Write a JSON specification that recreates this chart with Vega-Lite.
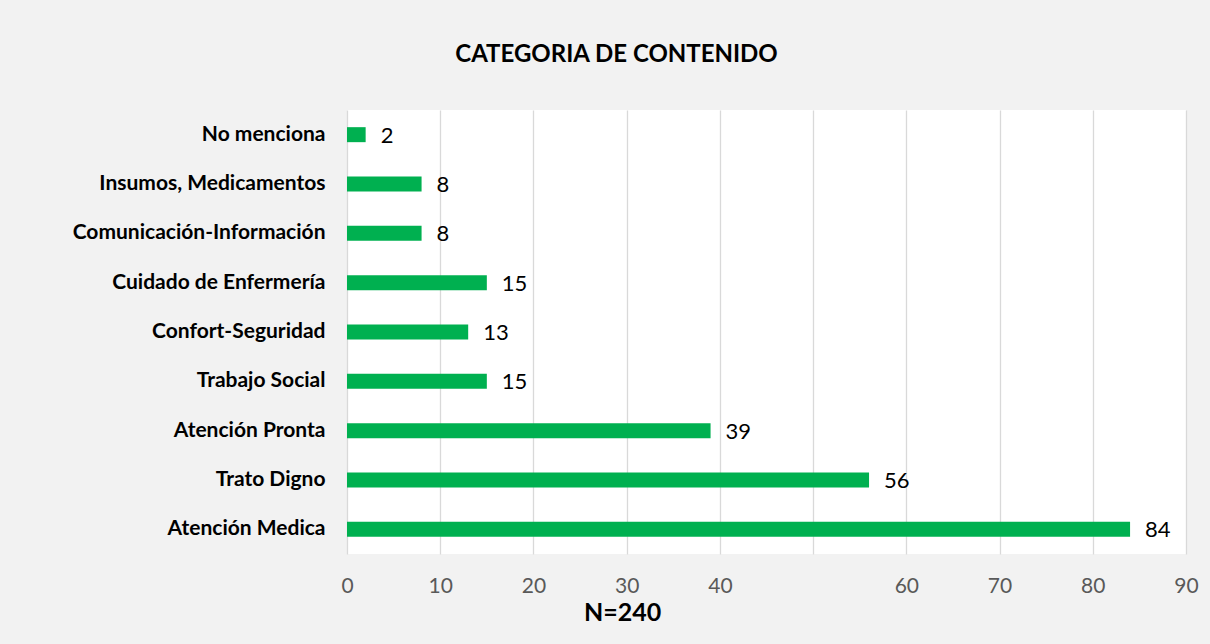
{
  "$schema": "https://vega.github.io/schema/vega-lite/v6.json",
  "autosize": "none",
  "width": 839,
  "height": 444,
  "padding": {"left": 347, "top": 110, "right": 24, "bottom": 90},
  "background": "#f2f2f2",
  "title": {
    "text": "CATEGORIA DE CONTENIDO",
    "font": "Lato",
    "fontSize": 24,
    "fontWeight": "bold",
    "color": "#000000",
    "anchor": "middle",
    "frame": "group",
    "dx": -150,
    "offset": 43
  },
  "config": {
    "view": {"fill": "#ffffff", "stroke": null}
  },
  "data": {
    "values": [
      {"categoria": "No menciona", "n": 2},
      {"categoria": "Insumos, Medicamentos", "n": 8},
      {"categoria": "Comunicación-Información", "n": 8},
      {"categoria": "Cuidado de Enfermería", "n": 15},
      {"categoria": "Confort-Seguridad", "n": 13},
      {"categoria": "Trabajo Social", "n": 15},
      {"categoria": "Atención Pronta", "n": 39},
      {"categoria": "Trato Digno", "n": 56},
      {"categoria": "Atención Medica", "n": 84}
    ]
  },
  "encoding": {
    "y": {
      "field": "categoria",
      "type": "nominal",
      "sort": null,
      "scale": {"paddingInner": 0.7, "paddingOuter": 0.35},
      "axis": {
        "title": null,
        "ticks": false,
        "domain": false,
        "labelFont": "Lato",
        "labelFontSize": 21,
        "labelFontWeight": "bold",
        "labelColor": "#000000",
        "labelPadding": 22,
        "labelLimit": 400
      }
    },
    "x": {
      "field": "n",
      "type": "quantitative",
      "scale": {"domain": [0, 90], "nice": false},
      "axis": {
        "values": [0, 10, 20, 30, 40, 50, 60, 70, 80, 90],
        "labelExpr": "datum.value == 50 ? '' : datum.label",
        "labelFlush": false,
        "grid": true,
        "gridColor": "#d9d9d9",
        "gridWidth": 1.3,
        "domain": false,
        "ticks": false,
        "labelFont": "Lato",
        "labelFontSize": 21,
        "labelColor": "#595959",
        "labelPadding": 21,
        "title": "N=240",
        "titleFont": "Lato",
        "titleFontSize": 25,
        "titleFontWeight": "bold",
        "titleColor": "#000000",
        "titleX": 275,
        "titleY": 46,
        "titleAnchor": "middle",
        "titleAlign": "center"
      }
    }
  },
  "layer": [
    {
      "mark": {"type": "bar", "color": "#00b050", "size": 15}
    },
    {
      "mark": {"type": "text", "align": "left", "dx": 15, "dy": 1, "font": "Lato", "fontSize": 22, "color": "#000000"},
      "encoding": {"text": {"field": "n", "type": "quantitative"}}
    }
  ]
}
